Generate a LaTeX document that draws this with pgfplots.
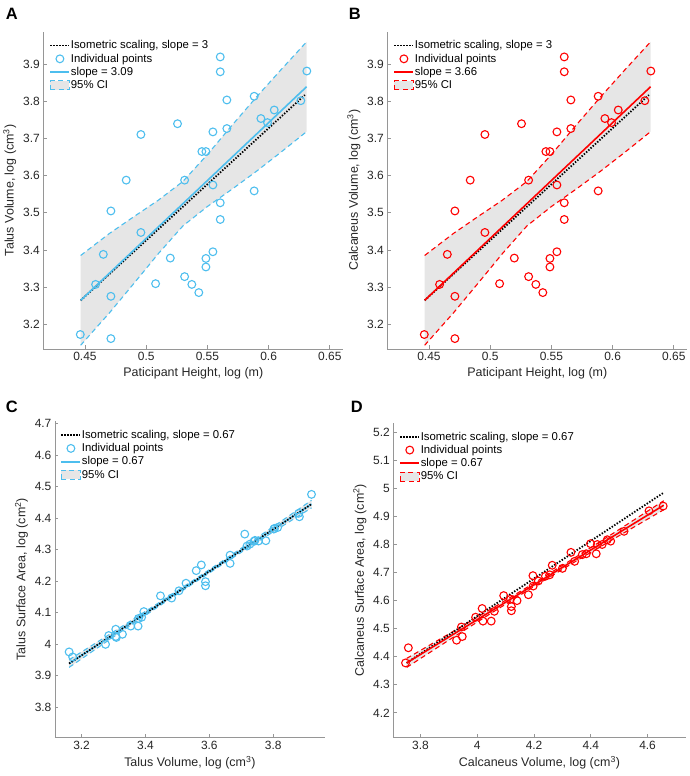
\documentclass[border=0pt]{standalone}
\usepackage{fontspec}
\setmainfont{Liberation Sans}
\usepackage{pgfplots}
\usepackage{pgfplotstable}
\usepgfplotslibrary{fillbetween}
\pgfplotsset{compat=1.18}
\definecolor{cblue}{RGB}{77,190,238}
\definecolor{cred}{RGB}{255,0,0}
\definecolor{cifill}{RGB}{230,230,230}
\definecolor{axgray}{RGB}{150,150,150}
\definecolor{txt}{RGB}{38,38,38}

% Panel A/B: participant height vs volume
\pgfplotstableread{
x y
0.4462 3.172
0.4587 3.307
0.4650 3.388
0.4712 3.505
0.4712 3.275
0.4712 3.161
0.4837 3.588
0.4957 3.711
0.4957 3.447
0.5077 3.309
0.5197 3.378
0.5256 3.740
0.5314 3.588
0.5314 3.328
0.5373 3.307
0.5430 3.285
0.5455 3.665
0.5488 3.665
0.5488 3.377
0.5488 3.354
0.5545 3.718
0.5545 3.575
0.5545 3.395
0.5605 3.920
0.5605 3.880
0.5605 3.527
0.5605 3.482
0.5659 3.804
0.5659 3.727
0.5882 3.814
0.5882 3.559
0.5937 3.754
0.5991 3.743
0.6046 3.777
0.6263 3.802
0.6312 3.882
}\ptsAB

\pgfplotstableread{
x up lo
0.4465 3.3850 3.1430
0.4700 3.4443 3.2303
0.4900 3.4897 3.3097
0.5100 3.5341 3.3901
0.5300 3.5845 3.4645
0.5500 3.6569 3.5169
0.5700 3.7353 3.5633
0.5900 3.8117 3.6117
0.6100 3.8851 3.6631
0.6310 3.9606 3.7186
}\ciAB

% Panel C: talus volume vs surface area
\pgfplotstableread{
x y
3.161 3.976
3.172 3.960
3.275 4.000
3.285 4.028
3.307 4.048
3.307 4.025
3.309 4.022
3.328 4.032
3.354 4.058
3.377 4.058
3.378 4.082
3.388 4.086
3.395 4.104
3.447 4.154
3.482 4.147
3.505 4.170
3.527 4.194
3.559 4.234
3.575 4.252
3.588 4.199
3.588 4.186
3.665 4.283
3.665 4.257
3.711 4.350
3.718 4.312
3.727 4.318
3.740 4.327
3.743 4.330
3.754 4.328
3.777 4.329
3.802 4.366
3.804 4.368
3.814 4.371
3.880 4.416
3.882 4.405
3.920 4.476
}\ptsC

\pgfplotstableread{
x up lo
3.161 3.9510 3.9270
3.300 4.0397 4.0237
3.450 4.1373 4.1263
3.550 4.2035 4.1935
3.650 4.2707 4.2597
3.800 4.3732 4.3572
3.920 4.4572 4.4332
}\ciC

% Panel D: calcaneus volume vs surface area
\pgfplotstableread{
x y
3.747 4.378
3.757 4.432
3.927 4.459
3.947 4.472
3.944 4.506
3.994 4.541
4.017 4.572
4.020 4.527
4.049 4.527
4.060 4.562
4.093 4.618
4.117 4.605
4.120 4.579
4.120 4.564
4.140 4.600
4.180 4.621
4.196 4.689
4.197 4.652
4.215 4.670
4.240 4.687
4.255 4.692
4.264 4.726
4.300 4.715
4.330 4.772
4.343 4.740
4.370 4.764
4.384 4.767
4.399 4.803
4.419 4.767
4.423 4.800
4.440 4.800
4.458 4.817
4.470 4.812
4.517 4.847
4.605 4.920
4.655 4.937
}\ptsD

\pgfplotstableread{
x up lo
3.751 4.3940 4.3620
3.900 4.4814 4.4594
4.050 4.5710 4.5560
4.200 4.6625 4.6505
4.350 4.7571 4.7421
4.500 4.8536 4.8316
4.657 4.9560 4.9240
}\ciD

\pgfplotsset{
  panel/.style={
    scale only axis,
    axis x line*=bottom, axis y line*=left,
    axis line style={axgray, line width=0.8bp},
    tick style={axgray, line width=0.8bp},
    tick align=inside,
    major tick length=3.5bp,
    ticklabel style={font=\fontsize{12}{14}\selectfont, text=txt},
    label style={font=\fontsize{12.5}{14}\selectfont, text=txt},
    /pgf/number format/assume math mode=true,
    scaled ticks=false,
    legend style={draw=none, fill=none, at={(0.02,0.978)}, anchor=north west,
      font=\fontsize{11.4}{12}\selectfont, row sep=0pt, inner sep=0pt,
      nodes={inner sep=0.6bp, text height=9.3bp, text depth=2.8bp}},
    legend cell align=left,
  },
  lineleg/.style={legend image code/.code={\draw[##1] (0bp,0bp) -- (19bp,0bp);}},
  markleg/.style={legend image code/.code={\draw[mark repeat=2,mark phase=2,##1] plot coordinates {(0bp,0bp) (9.5bp,0bp) (19bp,0bp)};}},
  patchleg/.style={legend image code/.code={\draw[##1] (0bp,-4.5bp) rectangle (19bp,4.5bp);}},
  isostyle/.style={black, line width=1.8bp, dash pattern=on 1.4bp off 1.6bp},
  ptstyle/.style={only marks, mark=o, mark size=3.9bp, line width=1.1bp, #1},
  cidash/.style={draw=#1, line width=1.1bp, dash pattern=on 5bp off 3.5bp},
  regleg/.style={legend image code/.code={\draw[#1, line width=1.8bp] (0bp,0bp) -- (19bp,0bp);}},
}

\begin{document}
\begin{tikzpicture}

% ---------------- A ----------------
\begin{axis}[panel, at={(41.7bp,427bp)}, anchor=south west,
  width=300bp, height=317.3bp,
  xmin=0.416, xmax=0.661, ymin=3.133, ymax=3.988,
  xtick={0.45,0.5,0.55,0.6,0.65}, ytick={3.2,3.3,3.4,3.5,3.6,3.7,3.8,3.9},
  xlabel={Paticipant Height, log (m)},
  ylabel={Talus Volume, log (cm\textsuperscript{3})}]
\addplot[draw=none, name path=au, forget plot] table[x=x,y=up]{\ciAB};
\addplot[draw=none, name path=al, forget plot] table[x=x,y=lo]{\ciAB};
\addplot[fill=cifill, draw=none, forget plot] fill between[of=au and al];
\addplot[cidash=cblue, forget plot] table[x=x,y=up]{\ciAB};
\addplot[cidash=cblue, forget plot] table[x=x,y=lo]{\ciAB};
\addplot[isostyle, forget plot] coordinates {(0.4465,3.264)(0.6296,3.8175)};
\addplot[ptstyle=cblue, forget plot] table[x=x,y=y]{\ptsAB};
\addplot[cblue, line width=1.6bp, forget plot] coordinates {(0.4465,3.264)(0.631,3.8396)};
\addlegendimage{lineleg, isostyle}
\addlegendentry{Isometric scaling, slope = 3}
\addlegendimage{markleg, ptstyle=cblue}
\addlegendentry{Individual points}
\addlegendimage{regleg=cblue}
\addlegendentry{slope = 3.09}
\addlegendimage{patchleg, fill=cifill, cidash=cblue}
\addlegendentry{95\% CI}
\end{axis}

% ---------------- B ----------------
\begin{axis}[panel, at={(385.7bp,427bp)}, anchor=south west,
  width=300bp, height=317.3bp,
  xmin=0.416, xmax=0.661, ymin=3.133, ymax=3.988,
  xtick={0.45,0.5,0.55,0.6,0.65}, ytick={3.2,3.3,3.4,3.5,3.6,3.7,3.8,3.9},
  xlabel={Paticipant Height, log (m)},
  ylabel={Calcaneus Volume, log (cm\textsuperscript{3})}]
\addplot[draw=none, name path=bu, forget plot] table[x=x,y=up]{\ciAB};
\addplot[draw=none, name path=bl, forget plot] table[x=x,y=lo]{\ciAB};
\addplot[fill=cifill, draw=none, forget plot] fill between[of=bu and bl];
\addplot[cidash=cred, forget plot] table[x=x,y=up]{\ciAB};
\addplot[cidash=cred, forget plot] table[x=x,y=lo]{\ciAB};
\addplot[isostyle, forget plot] coordinates {(0.4465,3.264)(0.6296,3.8175)};
\addplot[ptstyle=cred, forget plot] table[x=x,y=y]{\ptsAB};
\addplot[cred, line width=1.6bp, forget plot] coordinates {(0.4465,3.264)(0.631,3.8396)};
\addlegendimage{lineleg, isostyle}
\addlegendentry{Isometric scaling, slope = 3}
\addlegendimage{markleg, ptstyle=cred}
\addlegendentry{Individual points}
\addlegendimage{regleg=cred}
\addlegendentry{slope = 3.66}
\addlegendimage{patchleg, fill=cifill, cidash=cred}
\addlegendentry{95\% CI}
\end{axis}

% ---------------- C ----------------
\begin{axis}[panel, at={(53.3bp,38.7bp)}, anchor=south west,
  width=270bp, height=316bp,
  xmin=3.1165, xmax=3.962, ymin=3.705, ymax=4.708,
  xtick={3.2,3.4,3.6,3.8}, ytick={3.8,3.9,4,4.1,4.2,4.3,4.4,4.5,4.6,4.7},
  xlabel={Talus Volume, log (cm\textsuperscript{3})},
  ylabel={Talus Surface Area, log (cm\textsuperscript{2})}]
\addplot[draw=none, name path=cu, forget plot] table[x=x,y=up]{\ciC};
\addplot[draw=none, name path=cl, forget plot] table[x=x,y=lo]{\ciC};
\addplot[fill=cifill, draw=none, forget plot] fill between[of=cu and cl];
\addplot[cidash=cblue, forget plot] table[x=x,y=up]{\ciC};
\addplot[cidash=cblue, forget plot] table[x=x,y=lo]{\ciC};
\addplot[cblue, line width=1.6bp, forget plot] coordinates {(3.161,3.939)(3.92,4.4452)};
\addplot[ptstyle=cblue, forget plot] table[x=x,y=y]{\ptsC};
\addplot[isostyle, forget plot] coordinates {(3.161,3.939)(3.92,4.445)};
\addlegendimage{lineleg, isostyle}
\addlegendentry{Isometric scaling, slope = 0.67}
\addlegendimage{markleg, ptstyle=cblue}
\addlegendentry{Individual points}
\addlegendimage{regleg=cblue}
\addlegendentry{slope = 0.67}
\addlegendimage{patchleg, fill=cifill, cidash=cblue}
\addlegendentry{95\% CI}
\end{axis}

% ---------------- D ----------------
\begin{axis}[panel, at={(391.7bp,38.7bp)}, anchor=south west,
  width=292.3bp, height=314.3bp,
  xmin=3.704, xmax=4.734, ymin=4.113, ymax=5.233,
  xtick={3.8,4,4.2,4.4,4.6}, ytick={4.2,4.3,4.4,4.5,4.6,4.7,4.8,4.9,5,5.1,5.2},
  xlabel={Calcaneus Volume, log (cm\textsuperscript{3})},
  ylabel={Calcaneus Surface Area, log (cm\textsuperscript{2})}]
\addplot[draw=none, name path=du, forget plot] table[x=x,y=up]{\ciD};
\addplot[draw=none, name path=dl, forget plot] table[x=x,y=lo]{\ciD};
\addplot[fill=cifill, draw=none, forget plot] fill between[of=du and dl];
\addplot[cidash=cred, forget plot] table[x=x,y=up]{\ciD};
\addplot[cidash=cred, forget plot] table[x=x,y=lo]{\ciD};
\addplot[isostyle, forget plot] coordinates {(3.751,4.378)(4.657,4.985)};
\addplot[ptstyle=cred, forget plot] table[x=x,y=y]{\ptsD};
\addplot[cred, line width=1.6bp, forget plot] coordinates {(3.751,4.378)(4.657,4.940)};
\addlegendimage{lineleg, isostyle}
\addlegendentry{Isometric scaling, slope = 0.67}
\addlegendimage{markleg, ptstyle=cred}
\addlegendentry{Individual points}
\addlegendimage{regleg=cred}
\addlegendentry{slope = 0.67}
\addlegendimage{patchleg, fill=cifill, cidash=cred}
\addlegendentry{95\% CI}
\end{axis}

% panel letters
\node[anchor=base west, inner sep=0pt, font=\bfseries\fontsize{16.5}{16.5}\selectfont] at (4bp,756bp) {A};
\node[anchor=base west, inner sep=0pt, font=\bfseries\fontsize{16.5}{16.5}\selectfont] at (347bp,756bp) {B};
\node[anchor=base west, inner sep=0pt, font=\bfseries\fontsize{16.5}{16.5}\selectfont] at (4bp,363bp) {C};
\node[anchor=base west, inner sep=0pt, font=\bfseries\fontsize{16.5}{16.5}\selectfont] at (349bp,363bp) {D};
\path (0,0) rectangle (688bp,776bp);
\end{tikzpicture}
\end{document}
